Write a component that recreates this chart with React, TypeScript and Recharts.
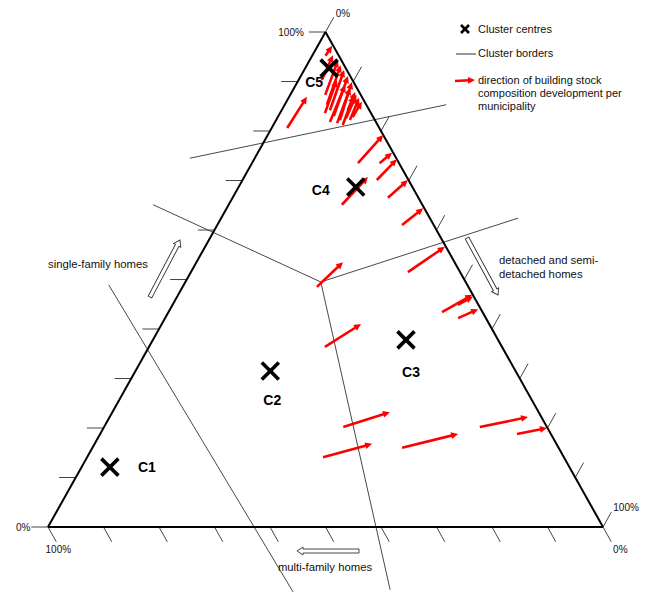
import React from 'react';
import { ScatterChart, Scatter, XAxis, YAxis, ReferenceLine, ReferenceDot } from 'recharts';

// Ternary composition in percent: sf = single-family homes, dsd = detached & semi-detached homes,
// multi-family homes = 100 - sf - dsd
const tickValues = [0, 10, 20, 30, 40, 50, 60, 70, 80, 90, 100];

const clusterCentres = [
  { name: 'C1', sf: 12.1, dsd: 5.1 },
  { name: 'C2', sf: 31.5, dsd: 24.3 },
  { name: 'C3', sf: 37.8, dsd: 45.6 },
  { name: 'C4', sf: 68.7, dsd: 21.1 },
  { name: 'C5', sf: 92.7, dsd: 4.3 },
];

const clusterBorders = [
  { sf0: 74.5, dsd0: -11.7, sf1: 85.3, dsd1: 29.1 },
  { sf0: 65.1, dsd0: -13.6, sf1: 49.5, dsd1: 24.4 },
  { sf0: 49.5, dsd0: 24.4, sf1: 62.4, dsd1: 53.5 },
  { sf0: 49.5, dsd0: 24.4, sf1: -12.7, dsd1: 68.0 },
  { sf0: 48.9, dsd0: -13.5, sf1: -13.1, dsd1: 50.7 },
];

// direction of building stock composition development per municipality (from -> to)
const developmentArrows = [
  { sf0: 95.2, dsd0: 2.4, sf1: 97.2, dsd1: 2.6 },
  { sf0: 90.3, dsd0: 4.2, sf1: 95.3, dsd1: 3.7 },
  { sf0: 87.3, dsd0: 6.3, sf1: 94.3, dsd1: 5.1 },
  { sf0: 85.3, dsd0: 7.6, sf1: 93.3, dsd1: 6.1 },
  { sf0: 83.6, dsd0: 8.1, sf1: 90.3, dsd1: 6.9 },
  { sf0: 84.2, dsd0: 8.7, sf1: 92.3, dsd1: 7.2 },
  { sf0: 81.8, dsd0: 9.9, sf1: 89.3, dsd1: 8.9 },
  { sf0: 83.0, dsd0: 10.0, sf1: 91.1, dsd1: 8.5 },
  { sf0: 81.6, dsd0: 11.3, sf1: 88.7, dsd1: 10.1 },
  { sf0: 82.2, dsd0: 11.5, sf1: 89.9, dsd1: 9.8 },
  { sf0: 81.2, dsd0: 12.5, sf1: 87.9, dsd1: 11.4 },
  { sf0: 82.6, dsd0: 12.4, sf1: 87.3, dsd1: 11.9 },
  { sf0: 82.2, dsd0: 13.3, sf1: 86.7, dsd1: 12.7 },
  { sf0: 84.2, dsd0: 11.9, sf1: 87.1, dsd1: 11.6 },
  { sf0: 82.8, dsd0: 13.5, sf1: 85.9, dsd1: 13.6 },
  { sf0: 80.6, dsd0: 2.8, sf1: 86.9, dsd1: 3.2 },
  { sf0: 73.5, dsd0: 19.1, sf1: 79.2, dsd1: 20.8 },
  { sf0: 73.5, dsd0: 23.0, sf1: 75.6, dsd1: 24.2 },
  { sf0: 70.1, dsd0: 24.2, sf1: 74.3, dsd1: 25.7 },
  { sf0: 66.5, dsd0: 28.0, sf1: 70.1, dsd1: 29.8 },
  { sf0: 65.1, dsd0: 20.4, sf1: 70.7, dsd1: 22.3 },
  { sf0: 61.0, dsd0: 33.3, sf1: 64.4, dsd1: 35.4 },
  { sf0: 48.5, dsd0: 24.2, sf1: 53.5, dsd1: 26.4 },
  { sf0: 51.5, dsd0: 39.1, sf1: 56.6, dsd1: 43.2 },
  { sf0: 43.4, dsd0: 49.3, sf1: 46.9, dsd1: 53.0 },
  { sf0: 44.9, dsd0: 51.4, sf1: 46.5, dsd1: 53.3 },
  { sf0: 42.2, dsd0: 52.8, sf1: 44.0, dsd1: 55.5 },
  { sf0: 36.4, dsd0: 31.7, sf1: 41.0, dsd1: 35.9 },
  { sf0: 20.2, dsd0: 43.1, sf1: 23.2, dsd1: 50.0 },
  { sf0: 14.1, dsd0: 42.5, sf1: 16.8, dsd1: 50.0 },
  { sf0: 16.0, dsd0: 55.8, sf1: 18.8, dsd1: 64.5 },
  { sf0: 20.2, dsd0: 67.7, sf1: 22.2, dsd1: 75.4 },
  { sf0: 18.8, dsd0: 75.1, sf1: 20.0, dsd1: 79.9 },
];

const vertices = [
  { sf: 0, dsd: 0 },
  { sf: 0, dsd: 100 },
  { sf: 100, dsd: 0 },
];

const labelOffsets: Record<string, [number, number]> = {
  C1: [37, 0],
  C2: [2, 29],
  C3: [5, 32],
  C4: [-35, 3],
  C5: [-15, 14],
};

const TICK = 3;
const FONT = 'Liberation Sans, Arial, Helvetica, sans-serif';

const proj = (sf: number, dsd: number) => ({ x: dsd + sf / 2, y: sf });

const RedArrow = (p: any) => {
  const { x1, y1, x2, y2 } = p;
  const dx = x2 - x1;
  const dy = y2 - y1;
  const len = Math.hypot(dx, dy) || 1;
  const ux = dx / len;
  const uy = dy / len;
  const hl = 7;
  const hw = 3.4;
  const bx = x2 - ux * hl;
  const by = y2 - uy * hl;
  return (
    <g>
      <line x1={x1} y1={y1} x2={bx + ux} y2={by + uy} stroke="#ff0000" strokeWidth={2.6} />
      <polygon
        points={`${x2},${y2} ${bx - uy * hw},${by + ux * hw} ${bx + uy * hw},${by - ux * hw}`}
        fill="#ff0000"
      />
    </g>
  );
};

const HollowArrow = ({ x1, y1, x2, y2 }: { x1: number; y1: number; x2: number; y2: number }) => {
  const dx = x2 - x1;
  const dy = y2 - y1;
  const len = Math.hypot(dx, dy);
  const ang = (Math.atan2(dy, dx) * 180) / Math.PI;
  const sw = 2;
  const hw = 4;
  const hl = 6;
  const d = `M0,${-sw} L${len - hl},${-sw} L${len - hl},${-hw} L${len},0 L${len - hl},${hw} L${len - hl},${sw} L0,${sw} Z`;
  return (
    <path
      d={d}
      transform={`translate(${x1},${y1}) rotate(${ang})`}
      fill="#fff"
      stroke="#333"
      strokeWidth={0.9}
    />
  );
};

const CentreShape = (props: any) => {
  const { cx, cy, payload } = props;
  const s = 8.5;
  const off = labelOffsets[payload.name] || [0, 0];
  return (
    <g>
      <line x1={cx - s} y1={cy - s} x2={cx + s} y2={cy + s} stroke="#000" strokeWidth={3.6} />
      <line x1={cx - s} y1={cy + s} x2={cx + s} y2={cy - s} stroke="#000" strokeWidth={3.6} />
      <text
        x={cx + off[0]}
        y={cy + off[1]}
        textAnchor="middle"
        dominantBaseline="central"
        fontFamily={FONT}
        fontWeight="bold"
        fontSize={14}
        fill="#000"
      >
        {payload.name}
      </text>
    </g>
  );
};

const tickLabel = (text: string, dx: number, dy: number, anchor: string) => (p: any) => (
  <text
    x={p.cx + dx}
    y={p.cy + dy}
    textAnchor={anchor}
    fontFamily={FONT}
    fontSize={10}
    fill="#111"
  >
    {text}
  </text>
);

export default function App() {
  const centreData = clusterCentres.map((c) => ({ ...proj(c.sf, c.dsd), name: c.name }));

  const edges = vertices.map((v, i) => {
    const w = vertices[(i + 1) % vertices.length];
    return [proj(v.sf, v.dsd), proj(w.sf, w.dsd)];
  });

  const ticks: { x: number; y: number }[][] = [];
  tickValues.forEach((v) => {
    // single-family axis (left edge)
    ticks.push([proj(v, 0), proj(v, -TICK)]);
    // multi-family axis (bottom edge)
    ticks.push([proj(0, 100 - v), proj(-TICK, 100 - v + TICK)]);
    // detached / semi-detached axis (right edge)
    ticks.push([proj(100 - v, v), proj(100 - v + TICK, v)]);
  });

  const tickLabels = [
    { pos: proj(100 + TICK, 0), render: tickLabel('0%', 2, 0, 'start') },
    { pos: proj(100, -TICK), render: tickLabel('100%', -5, 4, 'end') },
    { pos: proj(0, -TICK), render: tickLabel('0%', -1, 4, 'end') },
    { pos: proj(-TICK, TICK), render: tickLabel('100%', 2, 11, 'middle') },
    { pos: proj(-TICK, 100 + TICK), render: tickLabel('0%', 9, 11, 'middle') },
    { pos: proj(TICK, 100), render: tickLabel('100%', 2, -1, 'start') },
  ];

  return (
    <div style={{ position: 'absolute', left: 0, top: 0, width: 645, height: 593, background: '#fff' }}>
      <ScatterChart width={645} height={593} margin={{ top: 32, right: 42, bottom: 66, left: 48 }}>
        <XAxis type="number" dataKey="x" domain={[0, 100]} allowDataOverflow hide />
        <YAxis type="number" dataKey="y" domain={[0, 100]} allowDataOverflow hide />
        {ticks.map((t, i) => (
          <ReferenceLine key={`t${i}`} segment={t} ifOverflow="visible" stroke="#444" strokeWidth={1} />
        ))}
        {clusterBorders.map((b, i) => (
          <ReferenceLine
            key={`b${i}`}
            segment={[proj(b.sf0, b.dsd0), proj(b.sf1, b.dsd1)]}
            ifOverflow="visible"
            stroke="#333"
            strokeWidth={0.9}
          />
        ))}
        {edges.map((e, i) => (
          <ReferenceLine key={`e${i}`} segment={e} ifOverflow="visible" stroke="#000" strokeWidth={2} />
        ))}
        {developmentArrows.map((a, i) => (
          <ReferenceLine
            key={`a${i}`}
            segment={[proj(a.sf0, a.dsd0), proj(a.sf1, a.dsd1)]}
            ifOverflow="visible"
            shape={RedArrow}
          />
        ))}
        {tickLabels.map((l, i) => (
          <ReferenceDot key={`l${i}`} x={l.pos.x} y={l.pos.y} r={0} ifOverflow="visible" shape={l.render} />
        ))}
        <Scatter data={centreData} shape={CentreShape} isAnimationActive={false} />
      </ScatterChart>
      <svg
        width={645}
        height={593}
        style={{ position: 'absolute', left: 0, top: 0, pointerEvents: 'none' }}
        fontFamily={FONT}
      >
        {/* legend */}
        <line x1={461} y1={25} x2={469} y2={33} stroke="#000" strokeWidth={2.6} />
        <line x1={461} y1={33} x2={469} y2={25} stroke="#000" strokeWidth={2.6} />
        <text x={478} y={33} fontSize={11} fill="#111">Cluster centres</text>
        <line x1={456} y1={54} x2={476} y2={54} stroke="#333" strokeWidth={1} />
        <text x={478} y={57} fontSize={11} fill="#111">Cluster borders</text>
        <RedArrow x1={455} y1={81} x2={475} y2={80} />
        <text x={478} y={84} fontSize={11} fill="#111">direction of building stock</text>
        <text x={478} y={97} fontSize={11} fill="#111">composition development per</text>
        <text x={478} y={110} fontSize={11} fill="#111">municipality</text>

        {/* axis titles */}
        <text x={48} y={268} fontSize={11.3} fill="#111">single-family homes</text>
        <HollowArrow x1={150} y1={297} x2={180} y2={240} />
        <text x={499} y={264} fontSize={11.3} fill="#111">detached and semi-</text>
        <text x={499} y={278} fontSize={11.3} fill="#111">detached homes</text>
        <HollowArrow x1={467} y1={238} x2={498} y2={295} />
        <text x={325} y={571} fontSize={11.3} textAnchor="middle" fill="#111">multi-family homes</text>
        <HollowArrow x1={359} y1={551} x2={297} y2={551} />
      </svg>
    </div>
  );
}
